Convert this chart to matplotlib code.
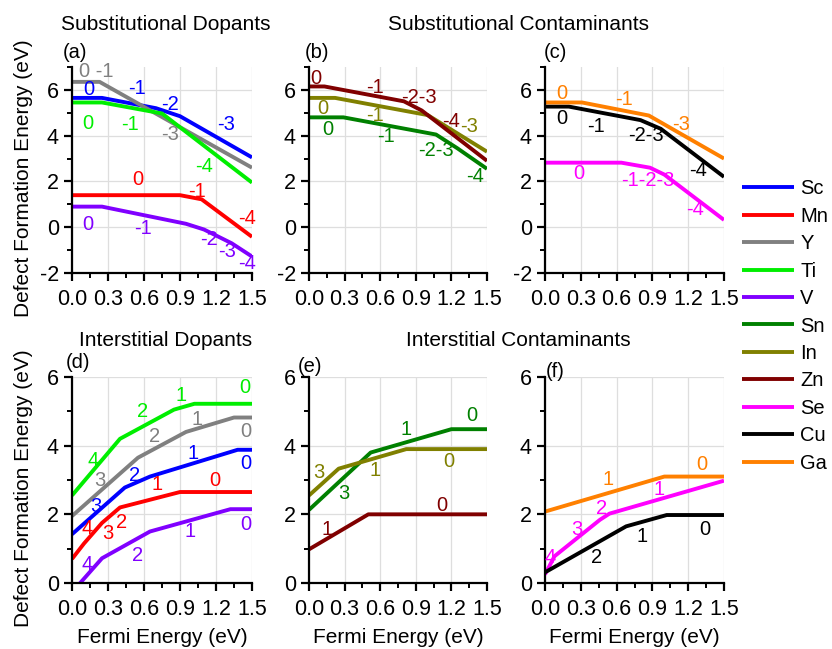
import numpy as np
import matplotlib
matplotlib.use("Agg")
import matplotlib.pyplot as plt
from matplotlib.ticker import MultipleLocator

plt.rcParams['font.family'] = ['Liberation Sans', 'DejaVu Sans']
plt.rcParams['axes.unicode_minus'] = False

# colours per element
colors = {'Sc': '#0000ff', 'Mn': '#ff0000', 'Y': '#808080', 'Ti': '#00ee00',
          'V': '#8000ff', 'Sn': '#008000', 'In': '#808000', 'Zn': '#800000',
          'Se': '#ff00ff', 'Cu': '#000000', 'Ga': '#ff8000'}
legend_order = ['Sc', 'Mn', 'Y', 'Ti', 'V', 'Sn', 'In', 'Zn', 'Se', 'Cu', 'Ga']

# (a) substitutional dopants: fermi energy, formation energy
a_Sc = ([0, 0.25, 0.7, 0.9, 1.5], [5.65, 5.65, 5.2, 4.85, 3.05])
a_Y = ([0, 0.23, 1.5], [6.35, 6.35, 2.6])
a_Ti = ([0, 0.25, 0.75, 1.5], [5.45, 5.45, 4.97, 1.95])
a_Mn = ([0, 0.9, 1.08, 1.5], [1.4, 1.4, 1.22, -0.42])
a_V = ([0, 0.25, 0.95, 1.1, 1.33, 1.5], [0.9, 0.9, 0.15, -0.1, -0.7, -1.28])

# (b) substitutional contaminants
b_Zn = ([0, 0.13, 0.8, 0.95, 1.5], [6.15, 6.15, 5.5, 5.1, 2.9])
b_In = ([0, 0.22, 1.0, 1.5], [5.65, 5.65, 4.9, 3.3])
b_Sn = ([0, 0.29, 1.07, 1.25, 1.5], [4.8, 4.8, 4.05, 3.45, 2.55])

# (c)
c_Ga = ([0, 0.31, 0.87, 1.5], [5.45, 5.45, 4.88, 3.0])
c_Cu = ([0, 0.2, 0.8, 0.97, 1.5], [5.27, 5.27, 4.68, 4.3, 2.2])
c_Se = ([0, 0.64, 0.88, 1.0, 1.5], [2.82, 2.82, 2.6, 2.3, 0.32])

# (d) interstitial dopants
d_Ti = ([0, 0.4, 0.85, 1.02, 1.5], [2.55, 4.2, 5.05, 5.22, 5.22])
d_Y = ([0, 0.55, 0.95, 1.35, 1.5], [1.95, 3.65, 4.4, 4.82, 4.82])
d_Sc = ([0, 0.44, 0.65, 1.38, 1.5], [1.42, 2.78, 3.1, 3.88, 3.88])
d_Mn = ([0, 0.1, 0.25, 0.4, 0.9, 1.5], [0.7, 1.15, 1.75, 2.2, 2.65, 2.65])
d_V = ([0, 0.25, 0.65, 1.32, 1.5], [-0.27, 0.72, 1.5, 2.15, 2.15])

# (e) interstitial contaminants
e_Sn = ([0, 0.52, 1.2, 1.5], [2.13, 3.8, 4.48, 4.48])
e_In = ([0, 0.25, 0.82, 1.5], [2.55, 3.33, 3.9, 3.9])
e_Zn = ([0, 0.5, 1.5], [0.98, 2.0, 2.0])

# (f)
f_Ga = ([0, 1.0, 1.5], [2.08, 3.1, 3.1])
f_Se = ([0, 0.08, 0.46, 0.54, 1.5], [0.25, 0.78, 1.84, 2.02, 2.98])
f_Cu = ([0, 0.68, 1.02, 1.5], [0.31, 1.65, 1.98, 1.98])

# charge state labels: text, x, y, element
a_labels = [('0 -1', 0.2, 6.8, 'Y'), ('0', 0.14, 6.0, 'Sc'), ('-1', 0.54, 6.07, 'Sc'),
            ('-2', 0.82, 5.34, 'Sc'), ('-3', 1.28, 4.47, 'Sc'), ('0', 0.13, 4.54, 'Ti'),
            ('-1', 0.48, 4.47, 'Ti'), ('-3', 0.82, 4.03, 'Y'), ('-4', 1.1, 2.65, 'Ti'),
            ('0', 0.55, 2.1, 'Mn'), ('-1', 1.04, 1.56, 'Mn'), ('-4', 1.46, 0.39, 'Mn'),
            ('0', 0.13, 0.1, 'V'), ('-1', 0.59, -0.04, 'V'), ('-2', 1.14, -0.55, 'V'),
            ('-3', 1.29, -1.06, 'V'), ('-4', 1.46, -1.57, 'V')]
b_labels = [('0', 0.06, 6.48, 'Zn'), ('-1', 0.56, 6.11, 'Zn'), ('-2-3', 0.93, 5.65, 'Zn'),
            ('-4', 1.2, 4.61, 'Zn'), ('0', 0.12, 5.2, 'In'), ('-1', 0.56, 4.9, 'In'),
            ('-3', 1.35, 4.4, 'In'), ('0', 0.16, 4.25, 'Sn'), ('-1', 0.65, 3.96, 'Sn'),
            ('-2-3', 1.07, 3.35, 'Sn'), ('-4', 1.4, 2.21, 'Sn')]
c_labels = [('0', 0.145, 5.85, 'Ga'), ('-1', 0.66, 5.59, 'Ga'), ('-3', 1.14, 4.5, 'Ga'),
            ('0', 0.14, 4.73, 'Cu'), ('-1', 0.43, 4.4, 'Cu'), ('-2-3', 0.85, 4.0, 'Cu'),
            ('-4', 1.28, 2.47, 'Cu'), ('0', 0.28, 2.36, 'Se'), ('-1-2-3', 0.86, 2.02, 'Se'),
            ('-4', 1.26, 0.76, 'Se')]
d_labels = [('0', 1.44, 5.69, 'Ti'), ('1', 0.91, 5.47, 'Ti'), ('2', 0.59, 4.99, 'Ti'),
            ('4', 0.18, 3.58, 'Ti'), ('1', 1.04, 4.76, 'Y'), ('0', 1.45, 4.4, 'Y'),
            ('2', 0.69, 4.26, 'Y'), ('3', 0.23, 3.0, 'Y'), ('1', 1.01, 3.78, 'Sc'),
            ('0', 1.45, 3.48, 'Sc'), ('2', 0.52, 3.13, 'Sc'), ('3', 0.2, 2.23, 'Sc'),
            ('1', 0.71, 2.86, 'Mn'), ('0', 1.19, 3.0, 'Mn'), ('2', 0.41, 1.77, 'Mn'),
            ('3', 0.3, 1.45, 'Mn'), ('4', 0.13, 1.58, 'Mn'), ('0', 1.45, 1.71, 'V'),
            ('1', 0.98, 1.5, 'V'), ('2', 0.55, 0.79, 'V'), ('4', 0.13, 0.53, 'V')]
e_labels = [('0', 1.37, 4.89, 'Sn'), ('1', 0.82, 4.47, 'Sn'), ('3', 0.29, 2.61, 'Sn'),
            ('3', 0.08, 3.21, 'In'), ('1', 0.56, 3.29, 'In'), ('0', 1.18, 3.55, 'In'),
            ('1', 0.15, 1.57, 'Zn'), ('0', 1.12, 2.27, 'Zn')]
f_labels = [('1', 0.53, 3.02, 'Ga'), ('0', 1.31, 3.44, 'Ga'), ('1', 0.96, 2.71, 'Se'),
            ('2', 0.47, 2.18, 'Se'), ('3', 0.27, 1.57, 'Se'), ('4', 0.04, 0.73, 'Se'),
            ('2', 0.43, 0.73, 'Cu'), ('1', 0.81, 1.34, 'Cu'), ('0', 1.34, 1.57, 'Cu')]

panels = [
    ('(a)', {'Sc': a_Sc, 'Mn': a_Mn, 'Y': a_Y, 'Ti': a_Ti, 'V': a_V}, a_labels),
    ('(b)', {'Sn': b_Sn, 'In': b_In, 'Zn': b_Zn}, b_labels),
    ('(c)', {'Se': c_Se, 'Cu': c_Cu, 'Ga': c_Ga}, c_labels),
    ('(d)', {'Sc': d_Sc, 'Mn': d_Mn, 'Y': d_Y, 'Ti': d_Ti, 'V': d_V}, d_labels),
    ('(e)', {'Sn': e_Sn, 'In': e_In, 'Zn': e_Zn}, e_labels),
    ('(f)', {'Se': f_Se, 'Cu': f_Cu, 'Ga': f_Ga}, f_labels),
]

W, H = 832, 649
fig = plt.figure(figsize=(W / 100, H / 100), dpi=100)


def px_axes(x0, x1, ytop, ybot):
    return fig.add_axes([x0 / W, 1 - ybot / H, (x1 - x0) / W, (ybot - ytop) / H])


xcols = [(72, 252), (309, 487), (545, 724)]
rows = [(67, 273), (377, 583)]
letter_pos = [(75, 52), (317, 52), (555, 52), (78, 363), (310, 367), (555, 372)]

handles = {}
for i, (letter, series, labels) in enumerate(panels):
    r, c = divmod(i, 3)
    ax = px_axes(xcols[c][0], xcols[c][1], rows[r][0], rows[r][1])
    for name, (xs, ys) in series.items():
        ln, = ax.plot(xs, ys, color=colors[name], lw=2.8, solid_capstyle='butt')
        handles[name] = ln
    for txt, tx, ty, name in labels:
        ax.text(tx, ty, txt, color=colors[name], fontsize=14.5, ha='center', va='center')
    ax.set_xlim(0, 1.5)
    if r == 0:
        ax.set_ylim(-2, 7)
    else:
        ax.set_ylim(0, 6)
        ax.set_xlabel('Fermi Energy (eV)', fontsize=15, labelpad=6)
    ax.yaxis.set_major_locator(MultipleLocator(2))
    ax.xaxis.set_major_locator(MultipleLocator(0.3))
    ax.xaxis.set_minor_locator(MultipleLocator(0.15))
    ax.yaxis.set_minor_locator(MultipleLocator(1))
    ax.xaxis.set_major_formatter(matplotlib.ticker.FormatStrFormatter('%.1f'))
    ax.grid(True, which='major', color='#dedede', lw=0.9)
    ax.set_axisbelow(True)
    for s in ['top', 'right']:
        ax.spines[s].set_visible(False)
    for s in ['left', 'bottom']:
        ax.spines[s].set_linewidth(1.6)
    ax.tick_params(which='major', direction='out', length=6, width=1.6, labelsize=15.5)
    ax.tick_params(axis='x', which='major', pad=5.5)
    ax.tick_params(which='minor', direction='out', length=3.5, width=1.4)
    lx, ly = letter_pos[i]
    fig.text(lx / W, 1 - ly / H, letter, fontsize=14.5, ha='center', va='center')

fig.text(166 / W, 1 - 25 / H, 'Substitutional Dopants', fontsize=15, ha='center', va='center')
fig.text(518 / W, 1 - 25 / H, 'Substitutional Contaminants', fontsize=15, ha='center', va='center')
fig.text(166 / W, 1 - 340 / H, 'Interstitial Dopants', fontsize=15, ha='center', va='center')
fig.text(518 / W, 1 - 340 / H, 'Interstitial Contaminants', fontsize=15, ha='center', va='center')
fig.text(24 / W, 1 - 178 / H, 'Defect Formation Energy (eV)', fontsize=15,
         rotation=90, ha='center', va='center')
fig.text(24 / W, 1 - 488 / H, 'Defect Formation Energy (eV)', fontsize=15,
         rotation=90, ha='center', va='center')

fig.legend([handles[n] for n in legend_order], legend_order, loc='center left',
           bbox_to_anchor=(742 / W, 1 - 326 / H), frameon=False, fontsize=14.5,
           handlelength=2.6, handletextpad=0.3, labelspacing=0.42,
           borderpad=0, borderaxespad=0)

fig.savefig('out.png', dpi=100)
